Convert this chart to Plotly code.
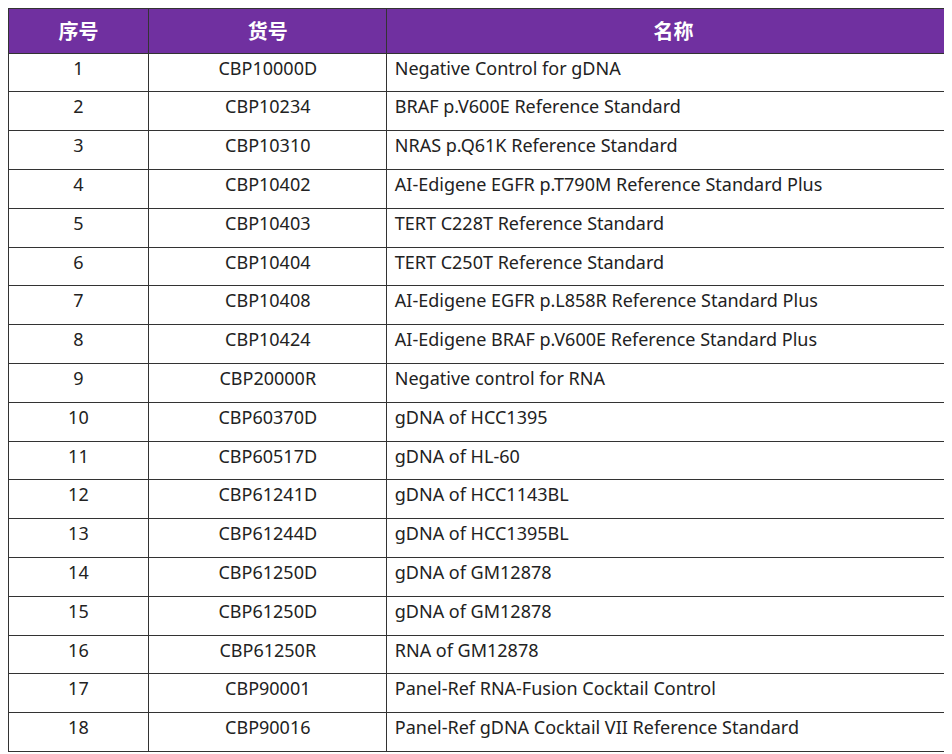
import plotly.graph_objects as go

headers = ["序号", "货号", "名称"]
nums = [str(i) for i in range(1, 19)]
codes = ["CBP10000D", "CBP10234", "CBP10310", "CBP10402", "CBP10403", "CBP10404",
         "CBP10408", "CBP10424", "CBP20000R", "CBP60370D", "CBP60517D", "CBP61241D",
         "CBP61244D", "CBP61250D", "CBP61250D", "CBP61250R", "CBP90001", "CBP90016"]
names = ["Negative Control for gDNA",
         "BRAF p.V600E Reference Standard",
         "NRAS p.Q61K Reference Standard",
         "AI-Edigene EGFR p.T790M Reference Standard Plus",
         "TERT C228T Reference Standard",
         "TERT C250T Reference Standard",
         "AI-Edigene EGFR p.L858R Reference Standard Plus",
         "AI-Edigene BRAF p.V600E Reference Standard Plus",
         "Negative control for RNA",
         "gDNA of HCC1395",
         "gDNA of HL-60",
         "gDNA of HCC1143BL",
         "gDNA of HCC1395BL",
         "gDNA of GM12878",
         "gDNA of GM12878",
         "RNA of GM12878",
         "Panel-Ref RNA-Fusion Cocktail Control",
         "Panel-Ref gDNA Cocktail VII Reference Standard"]

fig = go.Figure(go.Table(
    columnwidth=[139, 235, 566],
    header=dict(values=[f"<b>{h}</b>" for h in headers],
                fill_color="#7030A0", line_color="#333333", line_width=1,
                font=dict(family="Noto Sans CJK SC", size=20, color="white"),
                align="center", height=40),
    cells=dict(values=[nums, codes, names],
               fill_color="white", line_color="#333333", line_width=1,
               font=dict(family="Noto Sans", size=18, color="#222222"),
               align=["center", "center", "left"], height=38.8),
))
fig.update_layout(width=952, height=754, margin=dict(l=0, r=0, t=0, b=0),
                  paper_bgcolor="white")
fig.write_html("out.html")
